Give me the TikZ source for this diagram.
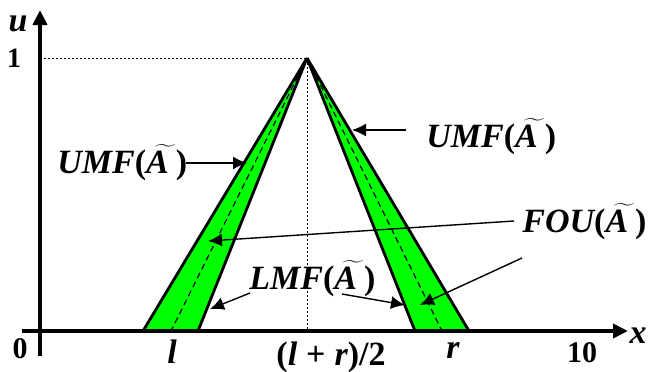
\documentclass[tikz,border=0pt]{standalone}
\usepackage{fontspec}
\usetikzlibrary{arrows.meta}
\newfontfamily\bif{Liberation Serif}[UprightFont=* Bold Italic]
\newfontfamily\buf{Liberation Serif}[UprightFont=* Bold]
\newcommand\tildeA{{\boldmath$\skew{7}\widetilde{\hbox{\bif A}}$}}
\newcommand\mflab[1]{{\bif #1}{\buf (}\tildeA\hspace{3.5pt}{\buf )}}
\begin{document}
\begin{tikzpicture}[x=0.5pt,y=-0.5pt,
  axis/.style={line width=2pt},
  band/.style={fill={rgb,255:red,0;green,255;blue,0},draw=black,line width=1.4pt,line join=miter},
  mid/.style={line width=0.6pt,dash pattern=on 3pt off 2pt},
  guide/.style={line width=0.4pt,dash pattern=on 1pt off 1pt},
  ptr/.style={line width=0.7pt,-{Latex[length=7pt,width=6.5pt]}},
  lbl/.style={inner sep=0pt,font=\fontsize{17}{20}\selectfont},
  num/.style={inner sep=0pt,font=\fontsize{15}{18}\selectfont\buf}]
\useasboundingbox (0,0) rectangle (649,371);
% key points
\coordinate (ytop) at (40,10);
\coordinate (ybot) at (40,356);
\coordinate (xleft) at (22,331);
\coordinate (xright) at (628,331);
\coordinate (peak) at (307,58);
\coordinate (y1) at (40,58);
\coordinate (mfoot) at (307,331);
\coordinate (Lo) at (143,331);
\coordinate (Li) at (198,331);
\coordinate (Lm) at (171,331);
\coordinate (Ri) at (415,331);
\coordinate (Ro) at (469,331);
\coordinate (Rm) at (442,331);
% guides
\draw[guide] (y1) -- (peak) -- (mfoot);
% bands
\draw[band] (peak) -- (Lo) -- (Li) -- cycle;
\draw[band] (peak) -- (Ri) -- (Ro) -- cycle;
\draw[mid] (peak) -- (Lm);
\draw[mid] (peak) -- (Rm);
% axes
\draw[axis,-{Triangle[length=7.5pt,width=7pt]}] (ybot) -- (ytop);
\draw[axis,-{Triangle[length=7.5pt,width=7pt]}] (xleft) -- (xright);
% axis labels
\node[lbl] (u) at (18,24) {\bif u};
\node[num,font=\fontsize{14}{16}\selectfont\buf] (one) at (14,58) {1};
\node[num] (zero) at (20,349) {0};
\node[lbl] (x) at (638,336) {\bif x};
\node[lbl] (l) at (172,352) {\bif l};
\node[lbl] (mid) at (331,357) {{\buf (}{\bif l}\hspace{4.5pt}{\buf +}\hspace{4.5pt}{\bif r}{\buf )/2}};
\node[lbl] (r) at (453,350) {\bif r};
\node[num] (ten) at (582,353) {10};
% labels
\node[lbl,anchor=base west] (umfL) at (57,173) {\mflab{UMF}};
\node[lbl,anchor=base west] (umfR) at (426,147) {\mflab{UMF}};
\node[lbl,anchor=base west] (fou) at (522,232) {\mflab{FOU}};
\node[lbl,anchor=base west] (lmf) at (249,289) {\mflab{LMF}};
% arrow ends
\coordinate (sUL) at (186,163);
\coordinate (tUL) at (247,163);
\coordinate (sUR) at (406,130);
\coordinate (tUR) at (352,130);
\coordinate (sF1) at (514,221);
\coordinate (tF1) at (208,241);
\coordinate (sF2) at (522,258);
\coordinate (tF2) at (420,305);
\coordinate (sL1) at (250,293);
\coordinate (tL1) at (210,309);
\coordinate (sL2) at (342,294);
\coordinate (tL2) at (405,305);
\draw[ptr] (sUL) -- (tUL);
\draw[ptr] (sUR) -- (tUR);
\draw[ptr] (sF1) -- (tF1);
\draw[ptr] (sF2) -- (tF2);
\draw[ptr] (sL1) -- (tL1);
\draw[ptr] (sL2) -- (tL2);
\end{tikzpicture}
\end{document}
